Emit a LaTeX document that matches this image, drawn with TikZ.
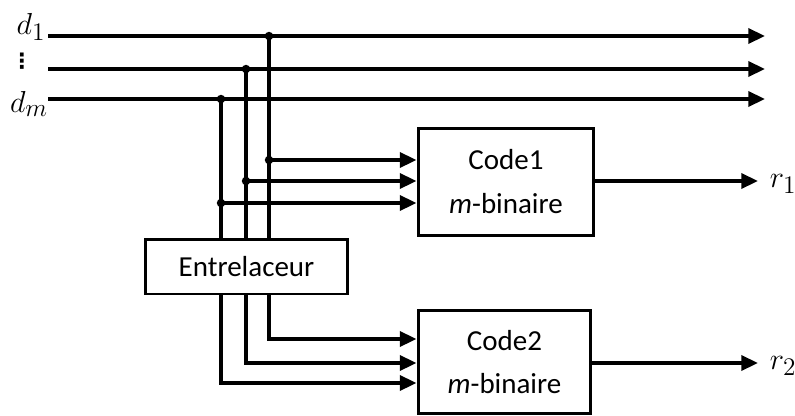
\documentclass[tikz,border=0pt]{standalone}
\usepackage{amsmath}
\usepackage{fontspec}
\setmainfont{Carlito}
\newfontfamily\symfont{DejaVu Sans}
\usetikzlibrary{arrows.meta}
\tikzset{>={Triangle[length=9.5pt,width=8.5pt]}}

\begin{document}
\begin{tikzpicture}[x=0.02cm, y=-0.02cm, line width=2pt,
    bloc/.style={draw, line width=1.7pt, align=center, inner sep=0pt,
      font=\fontsize{16.5}{25}\selectfont},
    lbl/.style={font=\fontsize{19}{20}\selectfont, inner sep=0pt}]
    \useasboundingbox (0,0) rectangle (795,416);

    % blocs
    \node[bloc, minimum width=3.52cm, minimum height=2.14cm] (c1) at (506,182) {Code1\\\textit{m}-binaire};
    \node[bloc, minimum width=3.46cm, minimum height=2.06cm] (c2) at (504.5,362) {Code2\\\textit{m}-binaire};
    \node[bloc, minimum width=4.06cm, minimum height=1.1cm] (ent) at (246.5,266.5) {Entrelaceur};

    % entrees d_1 ... d_m
    \foreach \n/\y in {1/36,2/69,3/99} {
        \coordinate (in\n) at (48,\y);
        \coordinate (out\n) at (765,\y);
        \draw[->] (in\n) -- (out\n);
    }
    \node[lbl] (d1) at (31,27) {$d_1$};
    \node[lbl, font=\fontsize{12}{12}\selectfont\symfont\bfseries] (dots) at (22,61) {⋮};
    \node[lbl] (dm) at (29,104) {$d_m$};

    % derivations vers Code1, Entrelaceur et Code2
    \foreach \n/\x/\ytop/\ya/\yb in {1/269/36/160/339, 2/246/69/181/363, 3/221/99/203/383} {
        \coordinate (t\n) at (\x,\ytop);
        \coordinate (a\n) at (\x,\ya);
        \coordinate (b\n) at (\x,\yb);
        \draw (t\n) -- (t\n |- ent.north);
        \draw[->] (a\n) -- (a\n -| c1.west);
        \draw[->] (t\n |- ent.south) -- (b\n) -- (b\n -| c2.west);
        \fill (t\n) circle (2.4pt) (a\n) circle (2.4pt);
    }

    % sorties
    \coordinate (s1) at (758,181);
    \coordinate (s2) at (758,363);
    \draw[->] (c1.east |- s1) -- (s1);
    \draw[->] (c2.east |- s2) -- (s2);
    \node[lbl, anchor=west] (r1) at (768,184) {$r_1$};
    \node[lbl, anchor=west] (r2) at (768,366) {$r_2$};
\end{tikzpicture}
\end{document}
